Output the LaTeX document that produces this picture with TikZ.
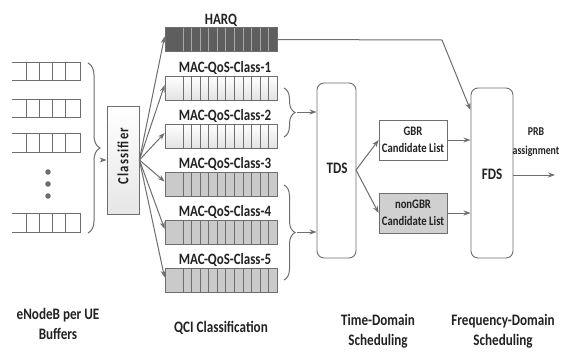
\documentclass[tikz,border=0pt]{standalone}
\usepackage{fontspec}
\setmainfont[FakeStretch=0.82]{Carlito}
\usetikzlibrary{arrows.meta,decorations.pathreplacing,calc}
\definecolor{ln}{HTML}{6E6E6E}
\definecolor{harqfill}{HTML}{5E5E5E}
\definecolor{harqcell}{HTML}{A8A8A8}
\definecolor{lightq}{HTML}{E2E2E2}
\definecolor{grayq}{HTML}{CACACA}
\definecolor{boxfill}{HTML}{E6E6E6}
\definecolor{ngbr}{HTML}{D0D0D0}
\definecolor{txt}{HTML}{222222}
\tikzset{
  queue/.style={draw=ln, line width=0.8pt, minimum width=112pt, minimum height=24pt, inner sep=0pt,
    path picture={\foreach \k in {0,...,10}{\draw[line width=0.6pt, draw=#1]
      ([xshift=18pt+\k*8.55pt]path picture bounding box.south west) --
      ([xshift=18pt+\k*8.55pt]path picture bounding box.north west);}}},
  buf/.style={minimum width=68pt, minimum height=18pt, inner sep=0pt},
  bufline/.style={draw=ln, line width=0.9pt},
  conn/.style={draw=ln, line width=1pt, -{Stealth[length=7pt,width=5pt]}},
  plain/.style={draw=ln, line width=1pt},
  brc/.style={draw=ln, line width=1pt, decorate, decoration={brace, amplitude=#1}},
  sched/.style={draw=ln, line width=0.9pt, rounded corners=7pt, fill=white, inner sep=0pt},
  cand/.style={draw=ln, line width=0.8pt, minimum width=68pt, minimum height=40pt, inner sep=0pt, align=center, text=txt, font=\bfseries\fontsize{13}{17}\selectfont},
  lbl/.style={font=\bfseries\fontsize{15.8}{17}\selectfont, text=txt, anchor=base, inner sep=0pt},
  bot/.style={font=\bfseries\fontsize{16}{20}\selectfont, align=center, text=txt},
  big/.style={font=\bfseries\fontsize{16}{18}\selectfont, text=txt},
}
\begin{document}
\begin{tikzpicture}[x=1pt,y=-1pt]
\useasboundingbox[fill=white] (0,0) rectangle (562,351);

% per-UE buffers
\node[buf] (b1) at (46,71.5) {};
\node[buf] (b2) at (46,108.5) {};
\node[buf] (b3) at (46,143) {};
\node[buf] (b4) at (46,223) {};
\foreach \b in {b1,b2,b3,b4}{
  \draw[bufline] (\b.north west) -- (\b.north east) -- (\b.south east) -- (\b.south west);
  \foreach \f in {0.22,0.40,0.60,0.79}
    \draw[bufline] ($(\b.north west)!\f!(\b.north east)$) -- ($(\b.south west)!\f!(\b.south east)$);
}
\foreach \y [count=\i] in {172,184,196}
  \fill[ln] (48,\y) circle (2.8pt) coordinate (dot\i);

% left brace
\coordinate (lb1) at (88,63);
\coordinate (lb2) at (88,233);
\coordinate (lbt) at (101,160);
\draw[brc=12pt] (lb1) -- (lb2);

% classifier
\node[draw=ln, line width=0.8pt, top color=white, bottom color=boxfill, minimum width=32pt, minimum height=108pt, inner sep=0pt] (cls) at (123,160) {};
\node[rotate=90, font=\bfseries\fontsize{15.5}{17}\selectfont\addfontfeature{LetterSpace=7}, text=txt] (clst) at (123,156) {Classifier};
\draw[conn] (lbt) -- (cls.west);

% queues
\node[queue=harqcell, fill=harqfill] (q0) at (221,39.5) {};
\node[queue=ln, top color=white, bottom color=lightq] (q1) at (221,88) {};
\node[queue=ln, top color=white, bottom color=lightq] (q2) at (221,136) {};
\node[queue=ln, fill=grayq] (q3) at (221,184.5) {};
\node[queue=ln, fill=grayq] (q4) at (221,232) {};
\node[queue=ln, fill=grayq] (q5) at (221,280.5) {};

\node[lbl] (l0) at (221,24.5) {HARQ};
\node[lbl] (l1) at (225,72) {MAC-QoS-Class-1};
\node[lbl] (l2) at (225,120) {MAC-QoS-Class-2};
\node[lbl] (l3) at (225,168) {MAC-QoS-Class-3};
\node[lbl] (l4) at (225,216) {MAC-QoS-Class-4};
\node[lbl] (l5) at (225,264) {MAC-QoS-Class-5};

\foreach \q in {q0,q1,q2,q3,q4,q5}
  \draw[conn] (cls.east) -- ([yshift=3pt]\q.west);

% TDS / FDS
\node[sched, minimum width=39pt, minimum height=175pt] (tds) at (336.5,170.5) {};
\node[big] (tdst) at (337,168) {TDS};
\node[sched, minimum width=42pt, minimum height=170pt] (fds) at (492,173) {};
\node[big] (fdst) at (492,174) {FDS};

% class braces
\coordinate (cb1a) at (284,88);
\coordinate (cb1b) at (284,137);
\coordinate (cb1t) at (297,112);
\coordinate (cb2a) at (284,185);
\coordinate (cb2b) at (284,280);
\coordinate (cb2t) at (297,232);
\draw[brc=11pt] (cb1a) -- (cb1b);
\draw[brc=11pt] (cb2a) -- (cb2b);
\draw[conn] (cb1t) -- (cb1t -| tds.west);
\draw[conn] (cb2t) -- (cb2t -| tds.west);

% candidate lists
\node[cand, fill=white] (gbr) at (413,140) {GBR\\Candidate List};
\node[cand, fill=ngbr] (ngb) at (413,213) {nonGBR\\Candidate List};
\coordinate (tdsout) at (356,170);
\draw[conn] (tdsout) -- (gbr.west);
\draw[conn] (tdsout) -- (ngb.west);
\draw[conn] (gbr.east) -- (gbr.east -| fds.west);
\draw[conn] (ngb.east) -- (ngb.east -| fds.west);

% HARQ to FDS
\coordinate (hk) at (442,40);
\coordinate (hf) at (470.5,110);
\draw[plain] (q0.east) -- (hk);
\draw[conn] (hk) -- (hf);

% PRB output
\coordinate (prb) at (555,175);
\draw[conn] (fds.east |- prb) -- (prb);
\node[font=\bfseries\fontsize{12}{19}\selectfont, align=center, text=txt, inner sep=0pt] (prbt) at (536,142) {PRB\\assignment};

% bottom labels
\node[bot] (t1) at (58,324) {eNodeB per UE\\Buffers};
\node[bot] (t2) at (221,328) {QCI Classification};
\node[bot] (t3) at (378,331) {Time-Domain\\Scheduling};
\node[bot] (t4) at (503,331) {Frequency-Domain\\Scheduling};
\end{tikzpicture}
\end{document}
